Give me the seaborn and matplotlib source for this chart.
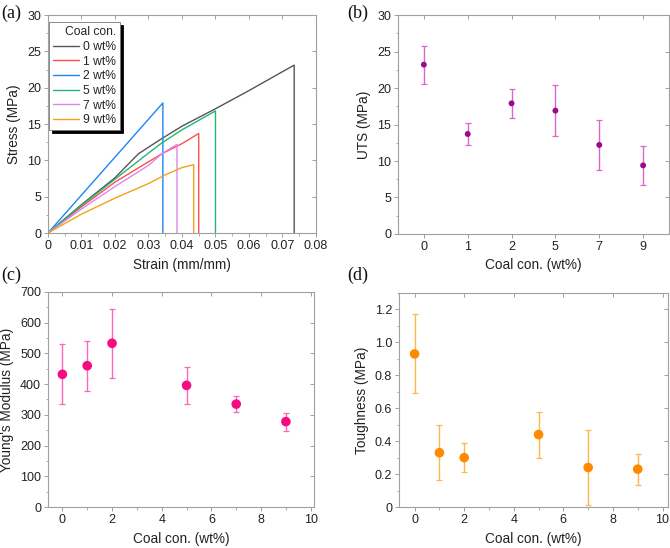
import numpy as np
import pandas as pd
import matplotlib
matplotlib.use('Agg')
import matplotlib.pyplot as plt
from matplotlib.ticker import MultipleLocator, FuncFormatter
import seaborn as sns

# ---- data ----
# (a) stress-strain curves, each ends with the break drop to zero
strain_0 = [0, 0.01, 0.02, 0.027, 0.03, 0.034, 0.04, 0.05, 0.06, 0.07, 0.0735, 0.0735]
stress_0 = [0, 3.9, 7.6, 10.9, 11.8, 13.0, 14.7, 17.1, 19.6, 22.2, 23.1, 0]
strain_1 = [0, 0.01, 0.02, 0.03, 0.034, 0.04, 0.045, 0.045]
stress_1 = [0, 3.6, 7.0, 9.8, 10.9, 12.3, 13.7, 0]
strain_2 = [0, 0.0343, 0.0343]
stress_2 = [0, 17.9, 0]
strain_5 = [0, 0.01, 0.02, 0.03, 0.034, 0.04, 0.05, 0.05]
stress_5 = [0, 3.8, 7.4, 11.0, 12.4, 14.2, 16.8, 0]
strain_7 = [0, 0.01, 0.02, 0.03, 0.034, 0.0385, 0.0385]
stress_7 = [0, 3.3, 6.4, 9.3, 10.9, 12.2, 0]
strain_9 = [0, 0.01, 0.02, 0.03, 0.035, 0.04, 0.0435, 0.0435]
stress_9 = [0, 2.6, 4.8, 6.8, 8.0, 9.0, 9.4, 0]

curve_labels = ['0 wt%', '1 wt%', '2 wt%', '5 wt%', '7 wt%', '9 wt%']
curve_colors = ['#555555', '#ff4d4d', '#1f86f0', '#22b573', '#dd88ee', '#f2a31b']

# (b)-(d) properties vs coal content
coal = [0, 1, 2, 5, 7, 9]
coal_labels = ['0', '1', '2', '5', '7', '9']
uts = [23.2, 13.7, 17.9, 16.9, 12.2, 9.4]
uts_err = [2.6, 1.5, 2.0, 3.5, 3.4, 2.7]
modulus = [432, 460, 533, 396, 335, 278]
modulus_err = [98, 81, 113, 61, 27, 29]
toughness = [0.93, 0.33, 0.30, 0.44, 0.24, 0.23]
toughness_err = [0.24, 0.167, 0.09, 0.14, 0.23, 0.095]

# ---- style ----
sns.set_style('ticks')
plt.rcParams['font.family'] = ['Liberation Sans', 'DejaVu Sans']
plt.rcParams['axes.edgecolor'] = '#a0a0a0'
plt.rcParams['axes.linewidth'] = 0.8
plt.rcParams['xtick.color'] = '#a0a0a0'
plt.rcParams['ytick.color'] = '#a0a0a0'
plt.rcParams['xtick.labelcolor'] = '#222222'
plt.rcParams['ytick.labelcolor'] = '#222222'
plt.rcParams['xtick.labelsize'] = 9
plt.rcParams['ytick.labelsize'] = 9
plt.rcParams['axes.labelsize'] = 9.8
plt.rcParams['axes.labelcolor'] = '#222222'

fig = plt.figure(figsize=(6.7, 5.48), dpi=100)
ax_a = fig.add_axes([0.0716, 0.5748, 0.400, 0.3978])
ax_b = fig.add_axes([0.594, 0.573, 0.4045, 0.3996])
ax_c = fig.add_axes([0.0716, 0.0748, 0.397, 0.3924])
ax_d = fig.add_axes([0.5955, 0.0748, 0.4015, 0.3905])


def style_ticks(ax):
    for s in ['top', 'right']:
        ax.spines[s].set_visible(True)
    ax.tick_params(which='major', direction='out', length=3, width=0.7,
                   top=False, right=False, pad=2)
    ax.tick_params(which='minor', direction='out', length=1.8, width=0.6)
    sec_x = ax.secondary_xaxis('top')
    sec_x.set_xticks(ax.get_xticks())
    sec_x.tick_params(direction='in', length=3, width=0.7, labeltop=False)
    sec_y = ax.secondary_yaxis('right')
    sec_y.tick_params(direction='in', length=3, width=0.7, labelright=False)
    for sec in (sec_x, sec_y):
        for sp in sec.spines.values():
            sp.set_visible(False)
    return sec_x, sec_y


zero_fmt = FuncFormatter(lambda v, p: '0' if abs(v) < 1e-12 else f'{v:g}')

# ---- (a) ----
strains = [strain_0, strain_1, strain_2, strain_5, strain_7, strain_9]
stresses = [stress_0, stress_1, stress_2, stress_5, stress_7, stress_9]
for sx, sy, lab, col in zip(strains, stresses, curve_labels, curve_colors):
    df = pd.DataFrame({'strain': sx, 'stress': sy})
    sns.lineplot(data=df, x='strain', y='stress', sort=False, estimator=None,
                 color=col, lw=1.0, label=lab, ax=ax_a)
ax_a.set_xlim(0, 0.08)
ax_a.set_ylim(0, 30)
ax_a.xaxis.set_major_locator(MultipleLocator(0.01))
ax_a.xaxis.set_minor_locator(MultipleLocator(0.005))
ax_a.yaxis.set_major_locator(MultipleLocator(5))
ax_a.yaxis.set_minor_locator(MultipleLocator(2.5))
ax_a.xaxis.set_major_formatter(zero_fmt)
ax_a.set_xlabel('Strain (mm/mm)')
ax_a.set_ylabel('Stress (MPa)')
style_ticks(ax_a)
leg = ax_a.legend(title='Coal con.', loc='upper left', bbox_to_anchor=(0.004, 0.968),
                  fontsize=8.7, title_fontsize=8.7, frameon=True, fancybox=False,
                  shadow={'color': 'black', 'alpha': 1}, handlelength=2.1,
                  handletextpad=0.35, labelspacing=0.22, borderpad=0.35,
                  alignment='right', borderaxespad=0)
leg.get_frame().set_edgecolor('#777777')
leg.get_frame().set_linewidth(0.6)

# ---- (b) ----
df_b = pd.DataFrame({'coal': coal_labels, 'uts': uts})
ax_b.errorbar(range(len(coal)), uts, yerr=uts_err, fmt='none', ecolor='#e065c8',
              elinewidth=1.0, capsize=2.2, capthick=0.9)
sns.scatterplot(data=df_b, x='coal', y='uts', color='#980a8e', s=18,
                edgecolor='none', ax=ax_b, zorder=3)
ax_b.set_xlim(-0.59, 5.59)
ax_b.set_ylim(0, 30)
ax_b.yaxis.set_major_locator(MultipleLocator(5))
ax_b.yaxis.set_minor_locator(MultipleLocator(2.5))
ax_b.set_xlabel('Coal con. (wt%)')
ax_b.set_ylabel('UTS (MPa)')
style_ticks(ax_b)

# ---- (c) ----
df_c = pd.DataFrame({'coal': coal, 'modulus': modulus})
ax_c.errorbar(coal, modulus, yerr=modulus_err, fmt='none', ecolor='#ff66b8',
              elinewidth=1.0, capsize=2.2, capthick=0.9)
sns.scatterplot(data=df_c, x='coal', y='modulus', color='#f70a82', s=48,
                edgecolor='none', ax=ax_c, zorder=3)
ax_c.set_xlim(-0.58, 10.13)
ax_c.set_ylim(0, 700)
ax_c.xaxis.set_major_locator(MultipleLocator(2))
ax_c.xaxis.set_minor_locator(MultipleLocator(1))
ax_c.yaxis.set_major_locator(MultipleLocator(100))
ax_c.yaxis.set_minor_locator(MultipleLocator(50))
ax_c.set_xlabel('Coal con. (wt%)')
ax_c.set_ylabel("Young's Modulus (MPa)")
style_ticks(ax_c)

# ---- (d) ----
df_d = pd.DataFrame({'coal': coal, 'toughness': toughness})
ax_d.errorbar(coal, toughness, yerr=toughness_err, fmt='none', ecolor='#ffb64f',
              elinewidth=1.0, capsize=2.2, capthick=0.9)
sns.scatterplot(data=df_d, x='coal', y='toughness', color='#ff8a00', s=48,
                edgecolor='none', ax=ax_d, zorder=3)
ax_d.set_xlim(-0.63, 10.22)
ax_d.set_ylim(0, 1.3)
ax_d.xaxis.set_major_locator(MultipleLocator(2))
ax_d.xaxis.set_minor_locator(MultipleLocator(1))
ax_d.yaxis.set_major_locator(MultipleLocator(0.2))
ax_d.yaxis.set_minor_locator(MultipleLocator(0.1))
ax_d.yaxis.set_major_formatter(FuncFormatter(lambda v, p: '0' if abs(v) < 1e-9 else f'{v:.1f}'))
ax_d.set_xlabel('Coal con. (wt%)')
ax_d.set_ylabel('Toughness (MPa)')
style_ticks(ax_d)

# panel letters
for x, y, t in [(0.002, 0.975, '(a)'), (0.518, 0.975, '(b)'),
                (0.002, 0.497, '(c)'), (0.518, 0.497, '(d)')]:
    fig.text(x, y, t, family=['Liberation Serif', 'DejaVu Serif'], fontsize=13,
             va='center', ha='left', color='#111111')

fig.savefig('out.png', dpi=100)
